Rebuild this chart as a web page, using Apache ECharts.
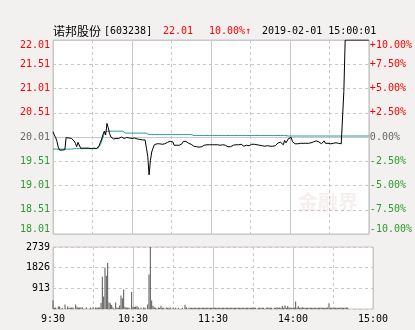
<!DOCTYPE html>
<html><head><meta charset="utf-8">
<script src="https://cdn.jsdelivr.net/npm/echarts@6/dist/echarts.min.js"></script>
<style>html,body{margin:0;padding:0;background:#f3f0f0}#c{width:415px;height:330px}</style>
</head><body><div id="c"></div><script>
const prevClose = 20.01;
// time categories 9:30..11:30, 13:01..15:00
const times = [];
for (let m = 0; m <= 120; m++) { const t = 9 * 60 + 30 + m; times.push(Math.floor(t / 60) + ':' + String(t % 60).padStart(2, '0')); }
for (let m = 1; m <= 120; m++) { const t = 13 * 60 + m; times.push(Math.floor(t / 60) + ':' + String(t % 60).padStart(2, '0')); }
const xTickLabels = ['9:30', '10:30', '11:30', '14:00', '15:00'];

const price = [
20.12,20.05,20.00,19.92,19.80,19.74,19.74,19.74,19.74,19.75,
20.00,20.00,19.99,19.99,19.98,19.96,19.93,19.88,19.81,19.90,
19.86,19.78,19.78,19.78,19.77,19.78,19.78,19.78,19.78,19.77,
19.78,19.78,19.78,19.77,19.78,19.83,19.90,19.97,20.06,20.13,
20.05,20.29,20.20,20.08,20.01,19.99,19.97,19.99,19.98,20.00,
19.98,19.99,20.01,19.99,19.98,19.99,20.00,19.98,19.99,20.00,
19.98,19.97,19.99,19.98,19.97,19.99,19.96,19.97,19.95,19.96,
19.95,19.78,19.61,19.23,19.52,19.70,19.78,19.85,19.88,19.87,
19.84,19.87,19.88,19.86,19.89,19.87,19.88,19.90,19.92,19.92,
19.92,19.91,19.84,19.84,19.84,19.84,19.84,19.85,19.87,19.92,
19.92,19.92,19.90,19.88,19.87,19.86,19.83,19.82,19.83,19.81,
19.80,19.80,19.82,19.81,19.82,19.84,19.85,19.85,19.85,19.85,
19.85,19.85,19.85,19.85,19.86,19.85,19.85,19.84,19.85,19.85,
19.85,19.84,19.83,19.81,19.80,19.81,19.83,19.84,19.85,19.85,
19.83,19.85,19.87,19.86,19.84,19.82,19.85,19.84,19.83,19.83,
19.84,19.86,19.87,19.86,19.85,19.85,19.85,19.84,19.83,19.83,
19.82,19.82,19.83,19.83,19.82,19.82,19.82,19.82,19.82,19.83,
19.83,19.89,19.87,19.90,19.93,19.85,19.94,19.89,19.93,19.98,
19.95,20.00,19.91,19.87,19.87,19.87,19.87,19.87,19.88,19.88,
19.88,19.88,19.88,19.88,19.88,19.88,19.89,19.91,19.91,19.92,
19.93,19.92,19.91,19.89,19.87,19.85,19.93,19.88,19.85,19.88,
19.91,19.87,19.88,19.88,19.89,19.89,19.88,19.88,19.87,19.87,
19.88,20.95,22.01,22.01,22.01,22.01,22.01,22.01,22.01,22.01,
22.01,22.01,22.01,22.01,22.01,22.01,22.01,22.01,22.01,22.01,22.01
];

const avgPrice = [
19.76,19.76,19.76,19.76,19.76,19.76,19.76,19.76,19.76,19.76,
19.76,19.76,19.76,19.76,19.76,19.77,19.77,19.77,19.77,19.77,
19.77,19.77,19.77,19.77,19.77,19.77,19.77,19.77,19.77,19.77,
19.77,19.77,19.77,19.77,19.77,19.79,19.85,19.93,20.00,20.09,
20.12,20.13,20.13,20.13,20.13,20.13,20.13,20.13,20.13,20.13,
20.13,20.13,20.13,20.13,20.09,20.09,20.09,20.09,20.09,20.09,
20.09,20.09,20.09,20.09,20.09,20.09,20.09,20.09,20.09,20.09,
20.09,20.09,20.09,20.06,20.06,20.06,20.06,20.06,20.06,20.06,
20.06,20.06,20.06,20.06,20.06,20.06,20.06,20.06,20.06,20.06,
20.06,20.06,20.06,20.06,20.06,20.06,20.06,20.06,20.06,20.06,
20.06,20.06,20.06,20.06,20.06,20.06,20.06,20.04,20.04,20.04,
20.04,20.04,20.04,20.04,20.04,20.04,20.04,20.04,20.04,20.04,
20.04,20.04,20.04,20.04,20.04,20.04,20.04,20.04,20.04,20.04,
20.04,20.04,20.04,20.04,20.04,20.04,20.04,20.04,20.04,20.04,
20.04,20.04,20.04,20.04,20.04,20.04,20.04,20.04,20.04,20.04,
20.04,20.04,20.04,20.04,20.04,20.04,20.04,20.04,20.04,20.04,
20.04,20.04,20.04,20.04,20.04,20.04,20.04,20.04,20.04,20.04,
20.04,20.04,20.04,20.04,20.04,20.04,20.04,20.04,20.03,20.03,
20.03,20.03,20.03,20.03,20.03,20.03,20.03,20.03,20.03,20.03,
20.03,20.03,20.03,20.03,20.03,20.03,20.03,20.03,20.03,20.03,
20.03,20.03,20.03,20.03,20.03,20.03,20.03,20.03,20.03,20.03,
20.03,20.03,20.03,20.03,20.03,20.03,20.03,20.03,20.03,20.03,
20.03,20.03,20.03,20.03,20.03,20.03,20.03,20.03,20.03,20.03,
20.03,20.03,20.03,20.03,20.03,20.03,20.03,20.03,20.03,20.03,20.03
];

const volume = [
390,60,70,0,110,110,0,40,0,200,
0,110,60,60,70,70,0,200,100,60,
70,70,70,0,0,70,0,0,70,0,
70,0,70,60,70,70,260,1430,550,1830,
1470,2030,290,250,180,70,0,290,70,60,
150,600,480,860,100,60,70,60,0,750,
100,90,110,120,70,0,60,0,70,60,
0,200,1520,2739,370,140,80,60,0,70,
60,140,60,60,0,70,60,60,70,0,
60,0,60,0,60,0,0,60,0,190,
80,0,60,60,60,60,50,60,60,50,
60,60,60,50,60,60,60,50,60,60,
60,60,60,60,60,50,60,60,60,60,
60,50,60,60,60,60,60,50,60,60,
60,60,60,60,50,60,60,60,60,60,
70,60,60,0,60,60,60,60,60,0,
60,70,60,60,60,0,60,60,80,60,
70,60,130,60,160,60,120,70,60,60,
60,70,330,60,120,60,60,80,60,60,
60,60,60,60,60,60,60,60,60,60,
60,70,60,60,60,60,70,250,60,60,
60,60,60,60,60,60,70,60,60,60,
70,60,0,0,0,0,0,0,0,0,
0,0,0,0,0,0,0,0,0,0,0
];
const volTicks = [0, 913, 1826, 2739];

const toPct = p => (p / prevClose - 1) * 100;
const pricePct = price.map(toPct);
const avgPct = avgPrice.map(toPct);

const MONO = '"DejaVu Sans Mono", monospace';
const RED = '#ff0000', GREEN = '#2e9a2e', GRAY = '#666666';
const gridLine = '#c8c8c8';
const pctColor = v => v > 0.001 ? RED : (v < -0.001 ? GREEN : GRAY);

function xAxesFor(gi, showLabels) {
  return [
    { type: 'category', gridIndex: gi, data: times, boundaryGap: false,
      axisLine: { show: false }, axisTick: { show: false },
      axisLabel: { show: showLabels, interval: i => i % 60 === 0, margin: 5,
        fontFamily: MONO, fontSize: 10, color: '#000',
        formatter: (v, i) => xTickLabels[i / 60] },
      splitLine: { show: true, interval: i => i % 30 === 0 && i % 60 !== 0,
        lineStyle: { type: [3, 3], color: gridLine, width: 1 } } },
    { type: 'category', gridIndex: gi, data: times, boundaryGap: false,
      axisLine: { show: false }, axisTick: { show: false }, axisLabel: { show: false },
      splitLine: { show: true, interval: i => i % 60 === 0,
        lineStyle: { type: 'solid', color: gridLine, width: 1 } } }
  ];
}

const option = {
  animation: false,
  backgroundColor: '#f3f0f0',
  grid: [
    { left: 53, right: 42, top: 40, height: 194, show: true, backgroundColor: '#fff', borderColor: gridLine, borderWidth: 1 },
    { left: 53, right: 42, top: 247, height: 62, show: true, backgroundColor: '#fff', borderColor: gridLine, borderWidth: 1 }
  ],
  xAxis: [...xAxesFor(0, false), ...xAxesFor(1, true)],
  yAxis: [
    { type: 'value', gridIndex: 0, min: -10, max: 10, interval: 2.5, position: 'left',
      axisLine: { show: false }, axisTick: { show: false },
      axisLabel: { margin: 3, fontFamily: MONO, fontSize: 10,
        verticalAlignMaxLabel: 'top', verticalAlignMinLabel: 'bottom',
        formatter: v => (prevClose * (1 + v / 100)).toFixed(2),
        color: v => pctColor(Number(v)) },
      splitLine: { show: true, lineStyle: { type: [3, 3], color: gridLine } } },
    { type: 'value', gridIndex: 0, min: -10, max: 10, interval: 2.5, position: 'right',
      axisLine: { show: false }, axisTick: { show: false },
      axisLabel: { margin: 1, fontFamily: MONO, fontSize: 10,
        verticalAlignMaxLabel: 'top', verticalAlignMinLabel: 'bottom',
        formatter: v => (v > 0 ? '+' : '') + v.toFixed(2) + '%',
        color: v => pctColor(Number(v)) },
      splitLine: { show: false } },
    { type: 'value', gridIndex: 0, min: -10, max: 10, interval: 10,
      axisLine: { show: false }, axisTick: { show: false }, axisLabel: { show: false },
      splitLine: { show: true, lineStyle: { type: 'solid', color: gridLine } } },
    { type: 'value', gridIndex: 1, min: volTicks[0], max: volTicks[3], interval: volTicks[1],
      axisLine: { show: false }, axisTick: { show: false },
      axisLabel: { margin: 3, fontFamily: MONO, fontSize: 10, color: '#000', showMinLabel: false,
        formatter: v => (v === 0 ? '' : String(v)) },
      splitLine: { show: true, lineStyle: { type: [3, 3], color: gridLine } } }
  ],
  graphic: [
    { type: 'text', silent: true, style: { x: 53, y: 31, text: '诺邦股份', font: '12px "Noto Sans CJK SC"', fill: '#000', verticalAlign: 'middle' } },
    { type: 'text', silent: true, style: { x: 104, y: 31, text: '[603238]', font: '10px ' + MONO, fill: '#000', verticalAlign: 'middle' } },
    { type: 'text', silent: true, style: { x: 163, y: 31, text: '22.01', font: '10px ' + MONO, fill: RED, verticalAlign: 'middle' } },
    { type: 'text', silent: true, style: { x: 209, y: 31, text: '10.00%↑', font: '10px ' + MONO, fill: RED, verticalAlign: 'middle' } },
    { type: 'text', silent: true, style: { x: 262, y: 31, text: '2019-02-01 15:00:01', font: '10px ' + MONO, fill: '#000', verticalAlign: 'middle' } },
    { type: 'text', silent: true, z: 1, style: { x: 298, y: 202, text: '金融界', font: 'bold 20px "Noto Sans CJK SC"', fill: 'rgba(215,170,170,0.2)', verticalAlign: 'middle' } }
  ],
  series: [
    { type: 'line', name: '均价', xAxisIndex: 0, yAxisIndex: 0, data: avgPct, showSymbol: false, z: 3,
      lineStyle: { color: '#2a9a96', width: 1 }, itemStyle: { color: '#2a9a96' } },
    { type: 'line', name: '价格', xAxisIndex: 0, yAxisIndex: 0, data: pricePct, showSymbol: false, z: 4,
      lineStyle: { color: '#000', width: 1 }, itemStyle: { color: '#000' } },
    { type: 'bar', name: '成交量', xAxisIndex: 2, yAxisIndex: 3, data: volume, barWidth: 1,
      itemStyle: { color: '#555' } }
  ]
};
echarts.init(document.getElementById('c'), null, { renderer: 'canvas' }).setOption(option);
</script></body></html>
